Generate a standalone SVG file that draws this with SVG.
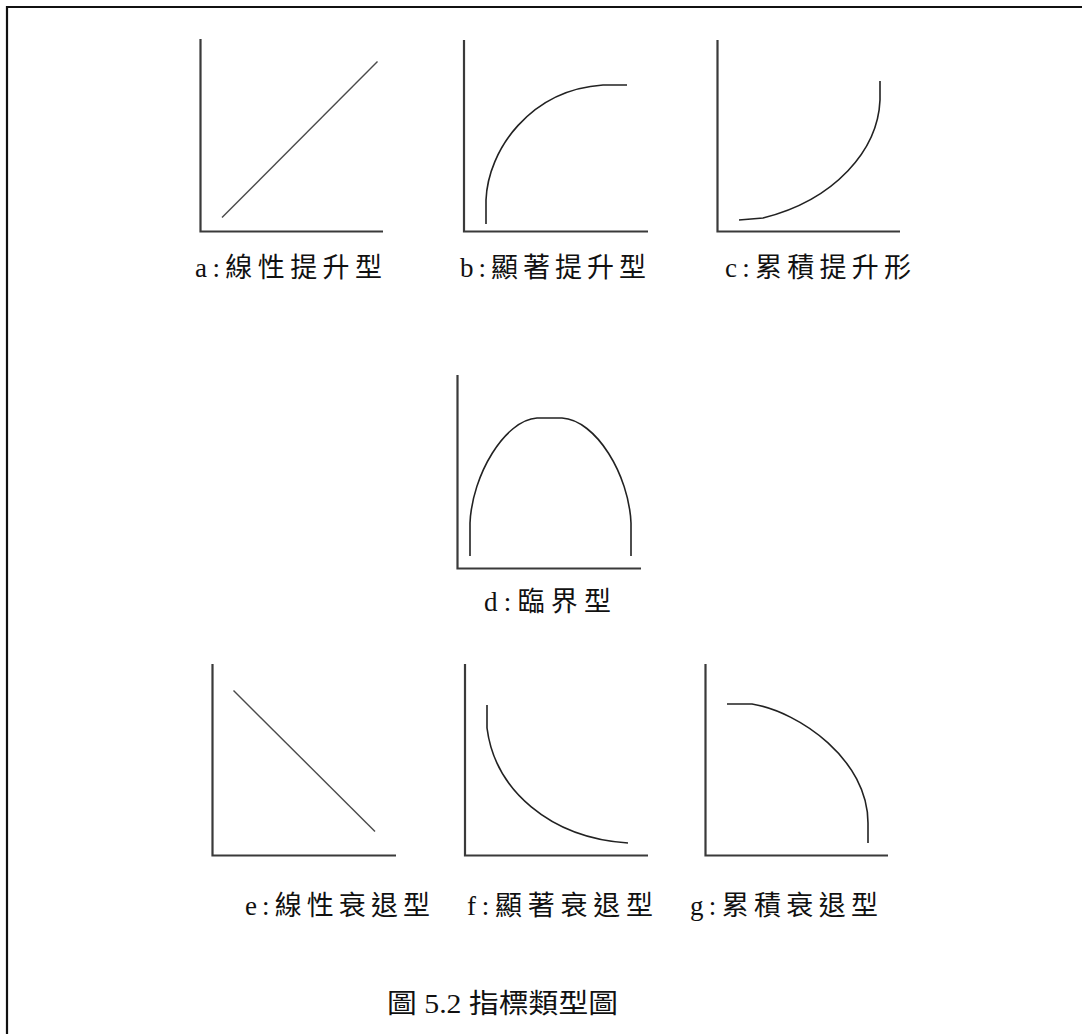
<svg xmlns="http://www.w3.org/2000/svg" width="1082" height="1034" viewBox="0 0 1082 1034">
<style>
.axis{fill:none;stroke:#3a3a3a;stroke-width:2.2}
.line{fill:none;stroke:#4a4a4a;stroke-width:1.4}
.curve{fill:none;stroke:#222;stroke-width:1.6}
.lbl{font-family:"Liberation Serif","Noto Sans CJK TC",serif;font-size:27px;fill:#111}
.cap{font-family:"Liberation Serif","Noto Sans CJK TC",serif;font-size:27px;fill:#111}
</style>
<rect width="1082" height="1034" fill="#fff"/>
<g id="frame">
<path d="M1082,7 H7 V1034" fill="none" stroke="#111" stroke-width="2.2"/>
</g>
<g id="chart-a">
<path class="axis" d="M200.5,39 V231.5 H383"/>
<line class="line" x1="222" y1="217.5" x2="377.5" y2="61.5"/>
<text class="lbl" x="195" y="277" textLength="187" lengthAdjust="spacing">a:線性提升型</text>
</g>
<g id="chart-b">
<path class="axis" d="M464,40 V231.5 H648"/>
<path class="curve" d="M486,224 V200 C488,150 530,90 603,85 H627"/>
<text class="lbl" x="460" y="277" textLength="186" lengthAdjust="spacing">b:顯著提升型</text>
</g>
<g id="chart-c">
<path class="axis" d="M717.5,40 V231.5 H900"/>
<path class="curve" d="M739,220 L763,218 C835,200 878,150 880,100 V81"/>
<text class="lbl" x="725" y="277" textLength="186" lengthAdjust="spacing">c:累積提升形</text>
</g>
<g id="chart-d">
<path class="axis" d="M457.5,375 V568.5 H641"/>
<path class="curve" d="M470,556 V523 C472,475 505,420 537,418 H562 C596,420 629,475 631,523 V556"/>
<text class="lbl" x="484" y="611" textLength="127" lengthAdjust="spacing">d:臨界型</text>
</g>
<g id="chart-e">
<path class="axis" d="M212.5,664 V855.5 H396"/>
<line class="line" x1="233.5" y1="690.5" x2="375" y2="831.5"/>
<text class="lbl" x="245" y="915" textLength="185" lengthAdjust="spacing">e:線性衰退型</text>
</g>
<g id="chart-f">
<path class="axis" d="M465,664 V855.5 H648"/>
<path class="curve" d="M487,705 V728 C495,790 550,838 628,843"/>
<text class="lbl" x="467" y="915" textLength="186" lengthAdjust="spacing">f:顯著衰退型</text>
</g>
<g id="chart-g">
<path class="axis" d="M705.5,664 V855.5 H888"/>
<path class="curve" d="M727,704 H752 C800,712 868,760 868,823 V843"/>
<text class="lbl" x="690" y="915" textLength="188" lengthAdjust="spacing">g:累積衰退型</text>
</g>
<g id="caption">
<text class="cap" x="387" y="1013" textLength="231" lengthAdjust="spacingAndGlyphs">圖 5.2 指標類型圖</text>
</g>
<g id="connectors"></g>
</svg>
